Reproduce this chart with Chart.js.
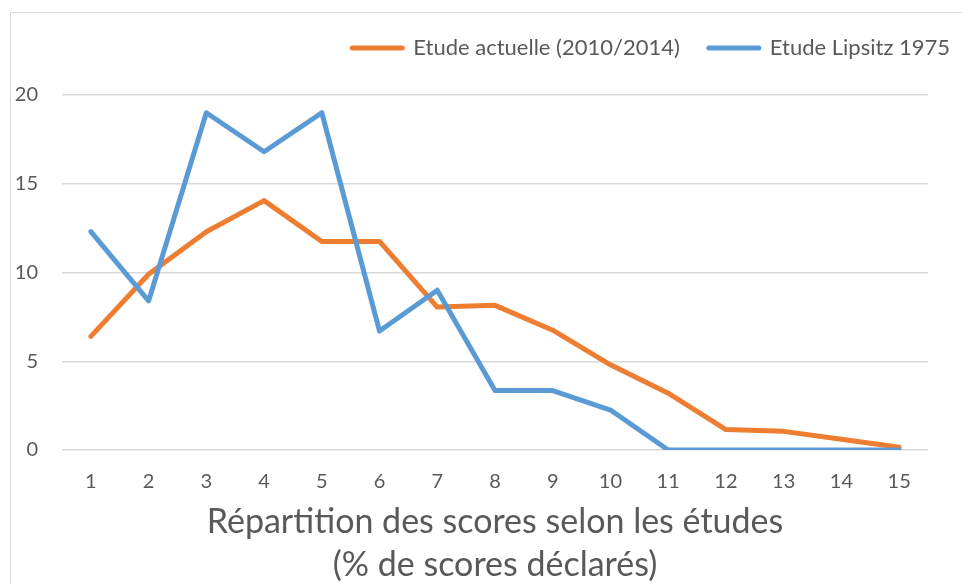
<!DOCTYPE html>
<html>
<head>
<meta charset="utf-8">
<script src="https://cdn.jsdelivr.net/npm/chart.js@4"></script>
<style>
  html, body { margin: 0; padding: 0; background: #fff; overflow: hidden; }
  #frame {
    position: absolute; left: 10px; top: 12px;
    width: 1000px; height: 1000px;
    border: 1px solid #d9d9d9;
  }
  #wrap { position: absolute; left: 0; top: 0; width: 962px; height: 584px; }
</style>
</head>
<body>
<div id="frame"></div>
<div id="wrap"><canvas id="chart"></canvas></div>
<script>
// Categories (score) and values (% of reported scores)
const scores = ["1", "2", "3", "4", "5", "6", "7", "8", "9", "10", "11", "12", "13", "14", "15"];
const etudeActuelle = [6.4, 9.9, 12.3, 14.05, 11.75, 11.75, 8.05, 8.15, 6.75, 4.8, 3.2, 1.15, 1.05, 0.6, 0.15];
const etudeLipsitz = [12.3, 8.4, 19.0, 16.8, 19.0, 6.7, 9.0, 3.35, 3.35, 2.25, 0, 0, 0, 0, 0];
const yTicks = [0, 5, 10, 15, 20];

const textColor = "#595959";
const gridColor = "#d9d9d9";
const fontFamily = "Lato, 'Open Sans', sans-serif";

// leave some empty room under the legend, like the Excel original
const legendGap = {
  id: "legendGap",
  afterInit(chart) {
    const legend = chart.legend;
    const fit = legend.fit;
    legend.fit = function () {
      fit.call(this);
      this.height += 26;
    };
  }
};

new Chart(document.getElementById("chart"), {
  type: "line",
  data: {
    labels: scores,
    datasets: [
      {
        label: "Etude actuelle (2010/2014)",
        data: etudeActuelle,
        borderColor: "#ED7D31",
        backgroundColor: "#ED7D31",
        order: 1
      },
      {
        label: "Etude Lipsitz 1975",
        data: etudeLipsitz,
        borderColor: "#5B9BD5",
        backgroundColor: "#5B9BD5",
        order: 0
      }
    ]
  },
  plugins: [legendGap],
  options: {
    responsive: true,
    maintainAspectRatio: false,
    animation: false,
    layout: { padding: { top: 8, left: 0, right: -17, bottom: 0 } },
    elements: {
      line: { borderWidth: 5, tension: 0, borderJoinStyle: "round", borderCapStyle: "round" },
      point: { radius: 0, hoverRadius: 0 }
    },
    scales: {
      x: {
        offset: true,
        grid: { display: false, drawTicks: false },
        border: { display: false },
        ticks: { color: textColor, font: { family: fontFamily, size: 20 }, padding: 20, maxRotation: 0 },
        title: {
          display: true,
          text: ["Répartition des scores selon les études", "(% de scores déclarés)"],
          color: textColor,
          font: { family: fontFamily, size: 34, lineHeight: 1.265 },
          padding: { top: 0, bottom: -3 }
        },
        afterFit: (scale) => { scale.height = 134; }
      },
      y: {
        min: 0,
        max: 20,
        afterBuildTicks: (scale) => { scale.ticks = yTicks.map(v => ({ value: v })); },
        grid: { color: gridColor, lineWidth: 1.5, drawTicks: false },
        border: { display: false },
        ticks: { color: textColor, font: { family: fontFamily, size: 20 }, padding: 24 },
        afterFit: (scale) => { scale.width = 62; }
      },
      yRight: {
        position: "right",
        grid: { display: false, drawTicks: false },
        border: { display: false },
        ticks: { display: false },
        afterFit: (scale) => { scale.width = 51; }
      }
    },
    plugins: {
      legend: {
        position: "top",
        align: "end",
        labels: {
          color: textColor,
          font: { family: fontFamily, size: 22 },
          boxWidth: 50,
          boxHeight: 0,
          padding: 29,
          sort: (a, b) => a.datasetIndex - b.datasetIndex
        }
      },
      tooltip: { enabled: false }
    }
  }
});
</script>
</body>
</html>
